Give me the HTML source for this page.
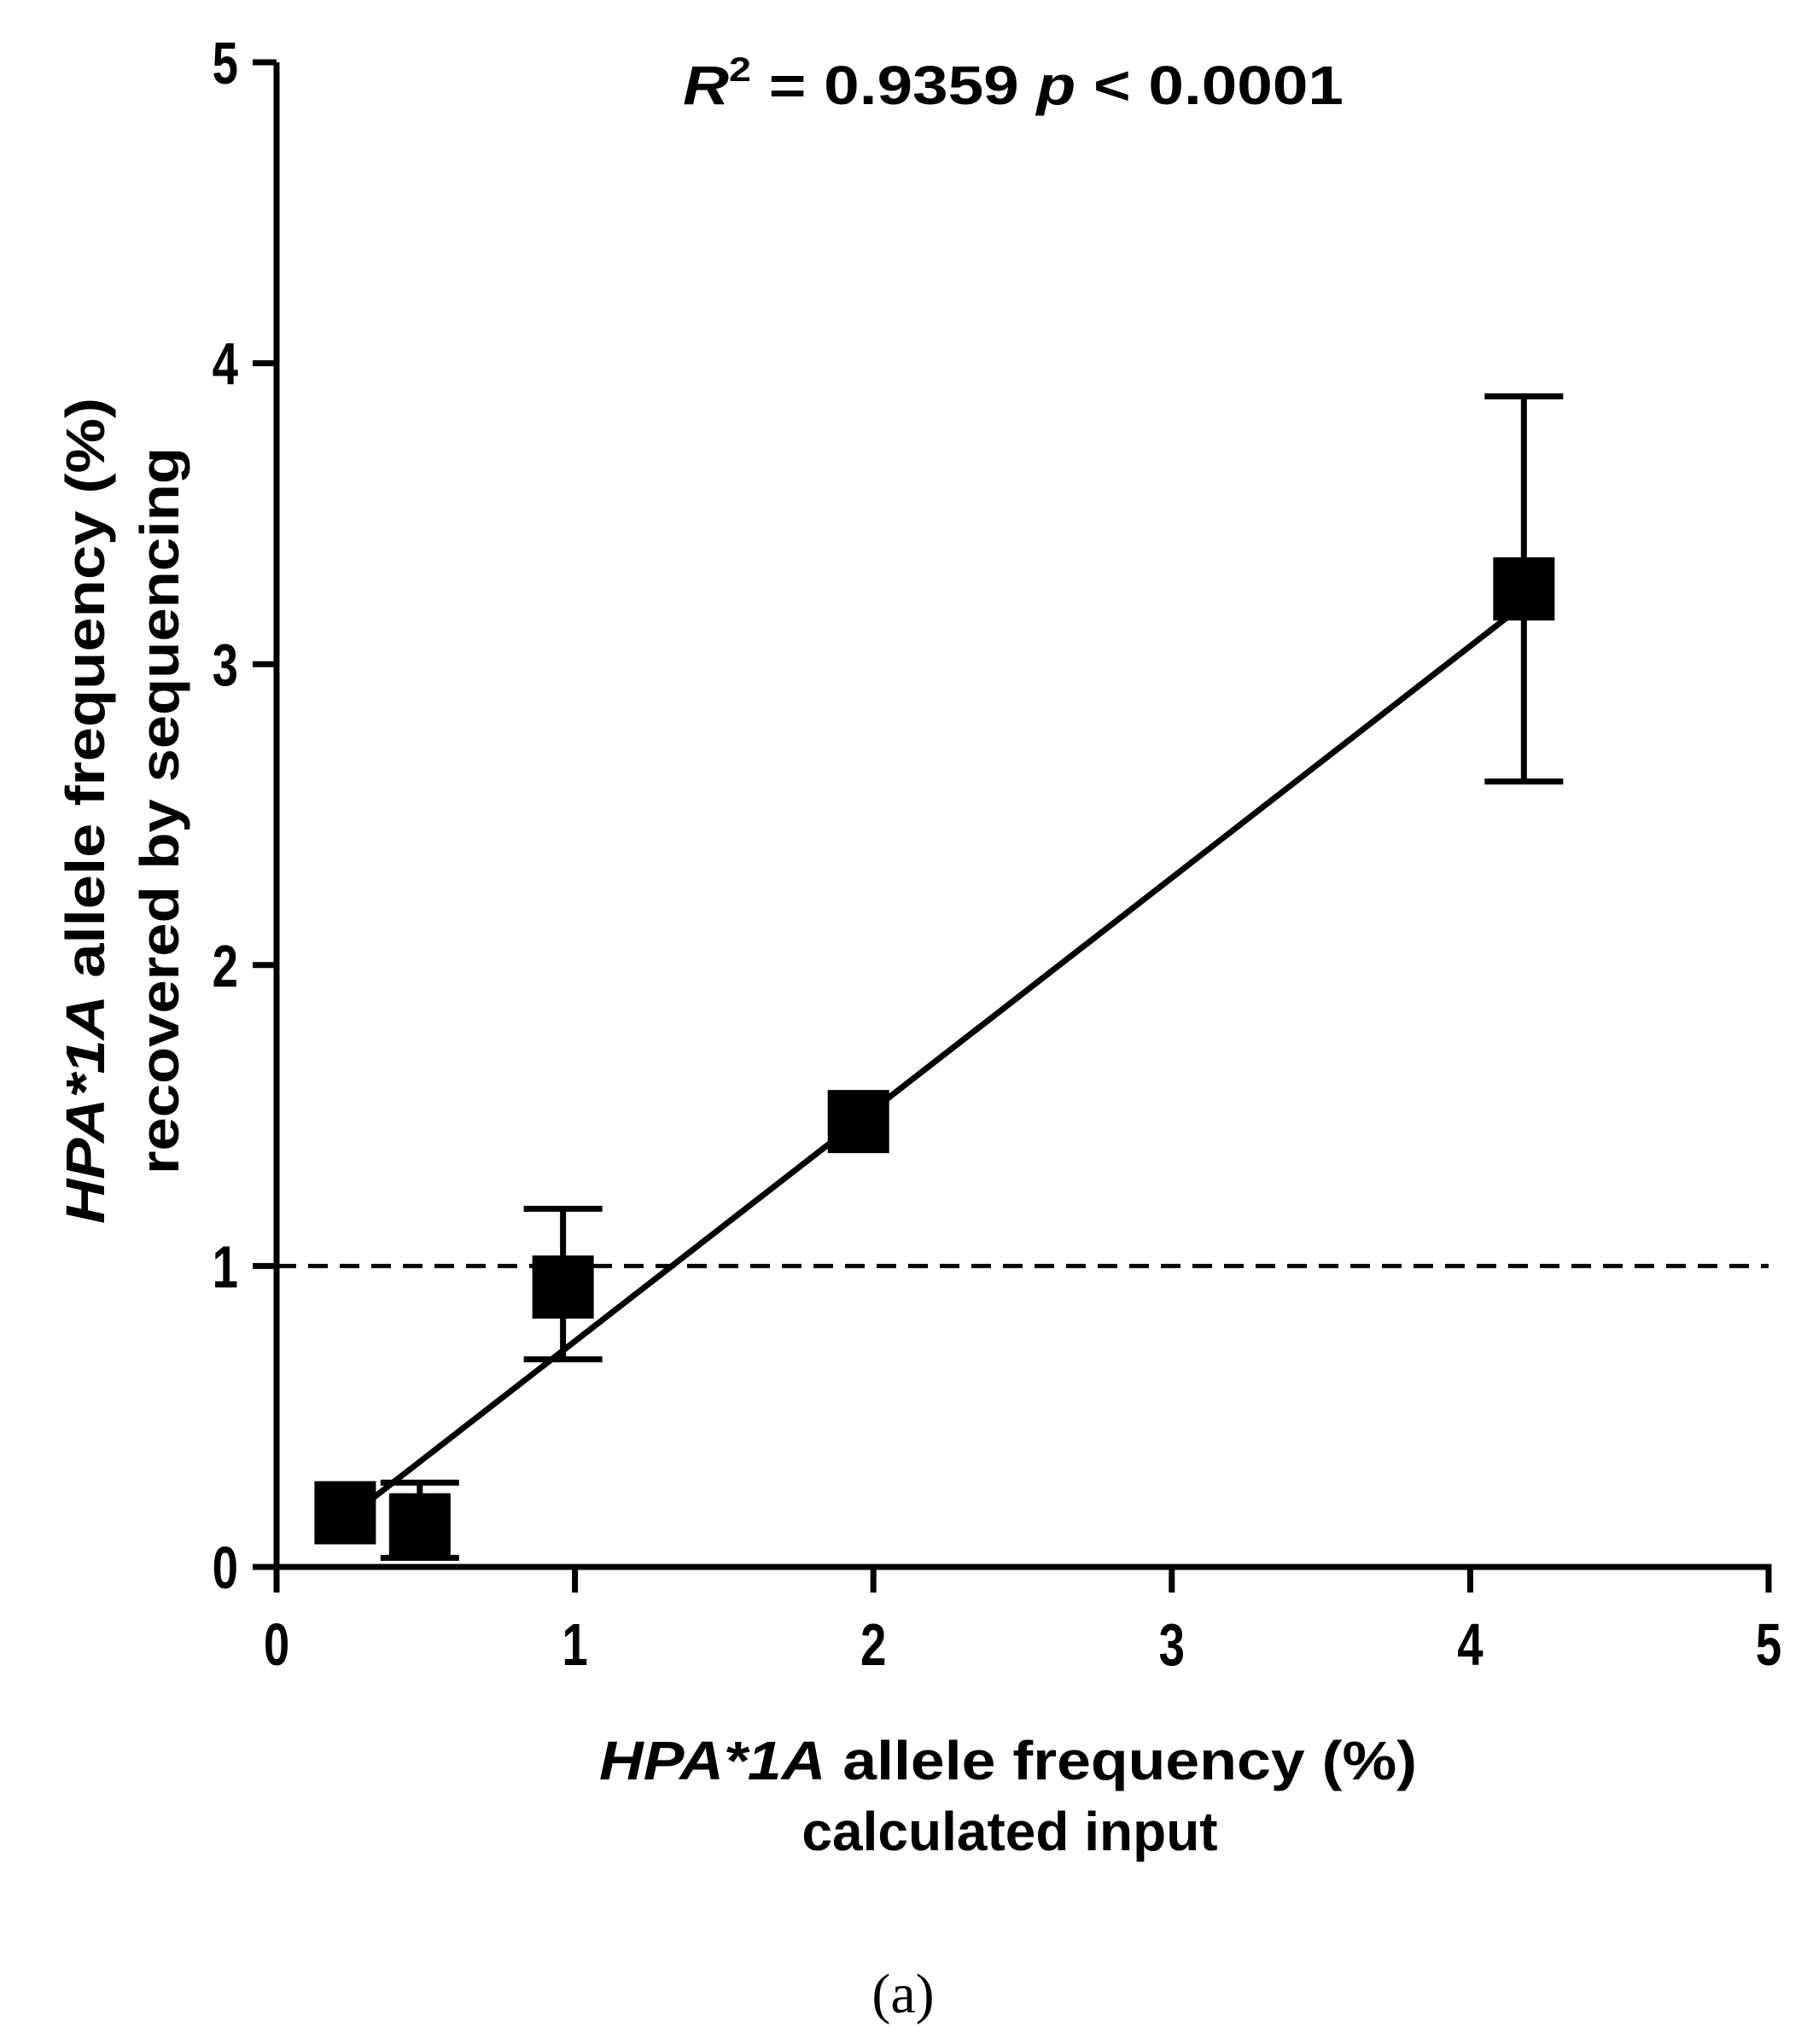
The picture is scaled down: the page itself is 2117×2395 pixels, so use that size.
<!DOCTYPE html>
<html><head><meta charset="utf-8"><style>body{margin:0;background:#fff}svg{display:block}</style></head>
<body>
<svg id="chart" width="2117" height="2395" xmlns="http://www.w3.org/2000/svg" font-family="Liberation Sans, sans-serif" font-weight="bold">
<g id="g"></g>
<text x="1187" y="122" text-anchor="middle" font-size="64" textLength="774" lengthAdjust="spacingAndGlyphs"><tspan font-style="italic">R</tspan><tspan font-size="40" dy="-27">2</tspan><tspan dy="27"> = 0.9359  </tspan><tspan font-style="italic">p</tspan> &lt; 0.0001</text>
<text x="1181" y="2085" text-anchor="middle" font-size="64" textLength="958" lengthAdjust="spacingAndGlyphs"><tspan font-style="italic">HPA*1A</tspan> allele frequency (%)</text>
<text x="1183" y="2168" text-anchor="middle" font-size="64">calculated input</text>
<g transform="translate(122,950) rotate(-90)">
<text x="0" y="0" text-anchor="middle" font-size="64" textLength="968" lengthAdjust="spacingAndGlyphs"><tspan font-style="italic">HPA*1A</tspan> allele frequency (%)</text>
</g>
<g transform="translate(209,950) rotate(-90)">
<text x="0" y="0" text-anchor="middle" font-size="64" textLength="852" lengthAdjust="spacingAndGlyphs">recovered by sequencing</text>
</g>
<text x="1058" y="2358" text-anchor="middle" font-size="66" font-weight="normal" font-family="Liberation Serif, serif">(a)</text>
</svg>
<script>
const xVals=[0.23,0.48,0.96,1.95,4.18];
const yVals=[0.18,0.14,0.93,1.48,3.25];
const errLo=[0.18,0.03,0.69,1.48,2.61];
const errHi=[0.18,0.28,1.19,1.48,3.89];
const fitSlope=0.77, fitIntercept=-0.02;
const xTicks=[0,1,2,3,4,5];
const yTicks=[0,1,2,3,4,5];
const threshold=1;

const X0=324,X1=2072,Y0=1836,Y1=73;
const sx=v=>X0+(X1-X0)*v/5, sy=v=>Y0-(Y0-Y1)*v/5;
const NS='http://www.w3.org/2000/svg', g=document.getElementById('g');
function mk(t,a,txt){const e=document.createElementNS(NS,t);for(const k in a)e.setAttribute(k,a[k]);if(txt!=null)e.textContent=txt;g.appendChild(e);return e;}

let e=mk('line',{x1:X0,x2:X1,y1:sy(threshold),y2:sy(threshold),stroke:'#000','stroke-width':5,'stroke-dasharray':'23 14'});


e=mk('line',{x1:X0,x2:X0,y1:Y1,y2:Y0+3.5,stroke:'#000','stroke-width':7});


e=mk('line',{x1:X0-3.5,x2:X1+3.5,y1:Y0,y2:Y0,stroke:'#000','stroke-width':7});


yTicks.forEach(v=>{
 e=mk('line',{x1:X0-28,x2:X0,y1:sy(v),y2:sy(v),stroke:'#000','stroke-width':7});
 
 
 e=mk('text',{transform:`translate(${X0-45},${sy(v)+25}) scale(0.78,1)`,'text-anchor':'end','font-size':70},String(v));
 
 
});
xTicks.forEach(v=>{
 e=mk('line',{x1:sx(v),x2:sx(v),y1:Y0,y2:Y0+30,stroke:'#000','stroke-width':7});
 
 
 e=mk('text',{transform:`translate(${sx(v)},1951) scale(0.78,1)`,'text-anchor':'middle','font-size':70},String(v));
 
 
});
const xa=xVals[0], xb=xVals[xVals.length-1];
e=mk('line',{x1:sx(xa),y1:sy(fitSlope*xa+fitIntercept),x2:sx(xb),y2:sy(fitSlope*xb+fitIntercept),stroke:'#000','stroke-width':7});


xVals.forEach((x,i)=>{
 const cx=sx(x);
 if(errHi[i]>yVals[i]||errLo[i]<yVals[i]){
  e=mk('path',{d:`M${cx},${sy(errLo[i])}V${sy(errHi[i])}M${cx-46},${sy(errHi[i])}H${cx+46}M${cx-46},${sy(errLo[i])}H${cx+46}`,stroke:'#000','stroke-width':7,fill:'none'});
  
  
 }
 e=mk('rect',{x:cx-36,y:sy(yVals[i])-37,width:72,height:74,fill:'#000'});
 
 
});
</script>
</body></html>
